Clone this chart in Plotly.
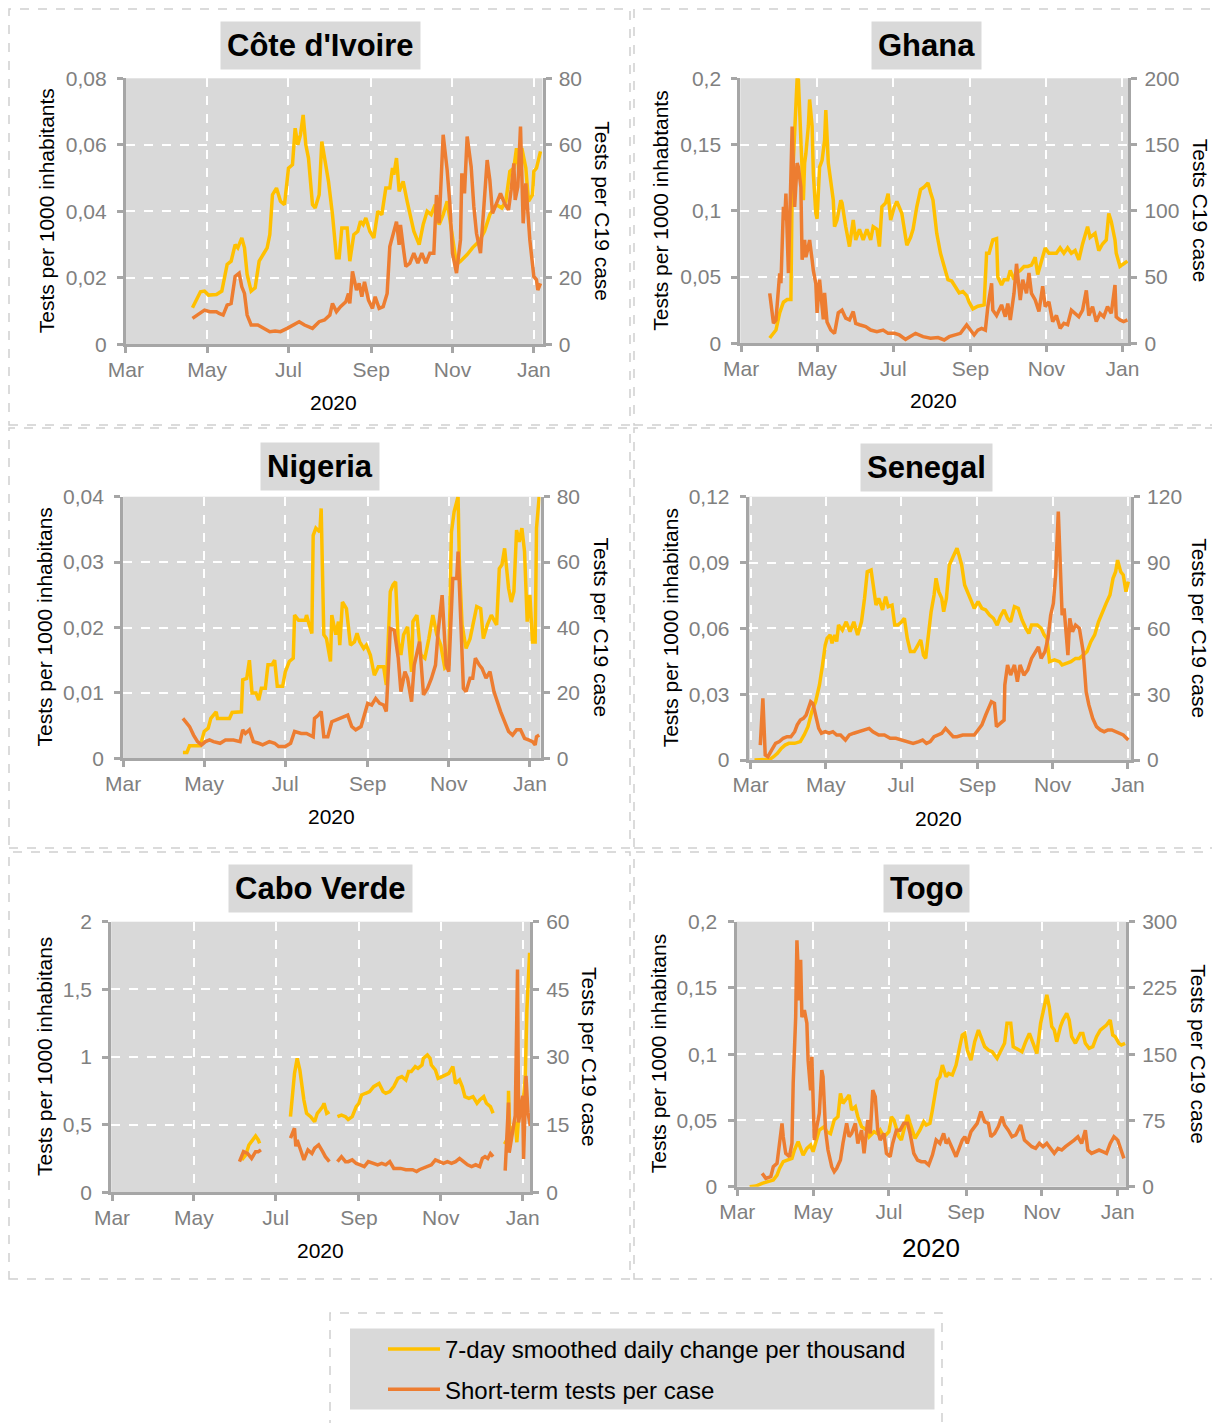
import pandas as pd
import plotly.graph_objects as go

W, H = 1220, 1423
PAGE_OFF = 8  # the page body margin shifts the figure by 8px
ORIGIN = pd.Timestamp("2020-03-01")
YELLOW = "#FFC000"
ORANGE = "#ED7D31"
AXIS = "#A6A6A6"
TICKC = "#808080"
PLOTBG = "#D9D9D9"
FONT = "Liberation Sans, Arial, Helvetica, sans-serif"

# ---------------- data (days since 2020-03-01, values) ----------------
month_ticks = ["2020-03-01", "2020-05-01", "2020-07-01", "2020-09-01", "2020-11-01", "2021-01-01"]
month_labels = ["Mar", "May", "Jul", "Sep", "Nov", "Jan"]
series_names = ["7-day smoothed daily change per thousand", "Short-term tests per case"]

# Côte d'Ivoire
civ_tests_day = [50, 56, 59, 62, 68, 72, 76, 79, 82, 84, 87, 89, 91, 94, 97, 100, 103, 106, 108, 110,
                 113, 116, 119, 122, 125, 127, 129, 131, 133, 135, 137, 140, 142, 145, 147, 149, 152, 155, 158, 160,
                 162, 166, 168, 171, 174, 176, 178, 180, 183, 186, 189, 192, 195, 198, 200, 201, 203, 205, 208, 211,
                 216, 220, 223, 226, 229, 232, 235, 238, 241, 244, 246, 248, 251, 256, 260, 265, 269, 273, 278, 282,
                 285, 288, 291, 293, 295, 297, 300, 302, 305, 306, 308, 310, 311]
civ_tests = [.011, .0158, .016, .0148, .015, .016, .024, .025, .030, .029, .032, .029, .021, .016, .017, .025, .027, .029, .033, .045,
             .047, .043, .042, .053, .054, .065, .060, .063, .069, .060, .056, .042, .041, .045, .061, .056, .049, .039, .026, .026,
             .035, .035, .025, .033, .034, .037, .036, .038, .034, .032, .040, .039, .047, .047, .053, .051, .056, .046, .049, .043,
             .034, .030, .036, .040, .039, .042, .036, .039, .043, .035, .030, .024, .025, .027, .029, .031, .034, .039, .042, .041,
             .043, .052, .053, .059, .051, .059, .053, .043, .045, .052, .053, .057, .058]
civ_ratio_day = [50, 54, 59, 63, 68, 70, 73, 76, 79, 82, 85, 87, 89, 91, 94, 99, 103, 108, 112, 116,
                 121, 125, 130, 134, 140, 145, 149, 153, 155, 158, 161, 165, 167, 168, 170, 173, 175, 177, 179, 182,
                 185, 187, 190, 193, 196, 198, 201, 203, 205, 206, 208, 210, 213, 216, 219, 222, 225, 228, 231, 233,
                 235, 236, 238, 241, 243, 245, 248, 251, 252, 254, 256, 259, 261, 263, 266, 268, 271, 273, 275, 278,
                 281, 284, 287, 289, 291, 292, 294, 296, 298, 300, 302, 303, 306, 308, 309, 311]
civ_ratio = [7.8, 8.8, 10.3, 9.8, 9.8, 9.3, 8.8, 11.8, 12.3, 20.4, 21.4, 17.3, 15.3, 8.8, 5.8, 5.8, 4.8, 3.8, 4.0, 3.8,
             4.8, 5.8, 6.8, 5.8, 4.8, 6.8, 7.3, 8.8, 12.3, 9.8, 11.3, 12.8, 15.3, 12.3, 21.9, 16.3, 18.3, 14.3, 18.8, 13.3,
             10.8, 14.3, 10.8, 11.3, 15.3, 29.4, 33.4, 36.9, 29.9, 35.9, 29.4, 23.4, 24.4, 27.4, 24.4, 27.4, 24.4, 27.4, 27.4, 44.9,
             36.4, 44.4, 63.0, 52.4, 42.4, 27.4, 21.4, 31.4, 51.4, 45.4, 62.5, 53.4, 41.4, 33.4, 27.4, 38.4, 55.4, 49.4, 39.4, 42.4,
             45.4, 42.4, 40.4, 46.4, 54.4, 43.4, 47.4, 65.5, 36.4, 48.4, 38.4, 31.4, 20.4, 19.4, 16.3, 18.3]
civ_left_ticks = [0, 0.02, 0.04, 0.06, 0.08]
civ_left_labels = ["0", "0,02", "0,04", "0,06", "0,08"]
civ_right_ticks = [0, 20, 40, 60, 80]

# Ghana
gha_tests_day = [23, 26, 28, 31, 34, 37, 40, 41, 44, 45, 46, 48, 50, 51, 52, 54, 55, 57, 58, 60,
                 61, 63, 65, 67, 68, 70, 71, 74, 75, 77, 80, 81, 84, 87, 90, 92, 95, 98, 101, 104,
                 106, 109, 111, 113, 116, 118, 120, 123, 125, 129, 131, 133, 136, 138, 141, 144, 147, 150, 152, 154,
                 157, 160, 163, 166, 169, 172, 175, 178, 181, 183, 186, 190, 195, 197, 199, 202, 205, 206, 209, 211,
                 214, 216, 219, 221, 224, 227, 230, 233, 236, 238, 241, 244, 247, 250, 253, 256, 259, 262, 265, 268,
                 271, 274, 278, 280, 284, 287, 290, 293, 295, 297, 300, 301, 304, 307, 310]
gha_tests = [.004, .0075, .010, .023, .031, .033, .033, .118, .174, .200, .199, .153, .108, .136, .143, .164, .184, .164, .128, .098,
             .094, .133, .138, .153, .176, .136, .128, .108, .088, .093, .108, .106, .088, .073, .093, .078, .086, .078, .086, .078,
             .088, .086, .073, .103, .106, .113, .093, .103, .107, .098, .086, .074, .080, .086, .103, .116, .118, .121, .114, .108,
             .083, .068, .058, .048, .047, .043, .038, .039, .036, .031, .026, .028, .029, .068, .068, .078, .079, .050, .044, .048,
             .048, .055, .048, .053, .055, .058, .058, .059, .065, .052, .063, .072, .068, .068, .068, .072, .068, .072, .068, .070,
             .063, .075, .088, .080, .083, .070, .075, .078, .098, .092, .078, .068, .058, .060, .062]
gha_ratio_day = [23, 25, 26, 28, 29, 31, 32, 34, 35, 36, 38, 39, 41, 42, 43, 45, 46, 48, 49, 51,
                 52, 54, 55, 57, 58, 60, 61, 63, 65, 66, 67, 69, 72, 75, 78, 81, 84, 87, 90, 92,
                 95, 100, 104, 109, 114, 118, 123, 127, 132, 136, 140, 146, 152, 158, 163, 167, 172, 176, 181, 184,
                 187, 190, 193, 196, 198, 201, 202, 205, 209, 212, 214, 216, 219, 221, 224, 226, 229, 231, 233, 236,
                 239, 242, 244, 247, 250, 253, 256, 259, 262, 265, 268, 271, 274, 277, 279, 282, 285, 288, 291, 294,
                 297, 300, 301, 304, 307, 310]
gha_ratio = [37.7, 25.2, 15.1, 17.6, 32.7, 52.8, 45.3, 103, 93, 113, 53, 101, 163.5, 133, 103, 136, 133, 118, 63, 78,
             65, 73, 78, 63, 55, 45, 23, 48, 28, 18, 38, 16, 10, 7.5, 23, 25, 19, 17.6, 24, 15,
             14, 12.6, 10, 8.8, 10, 7.5, 7.5, 6.3, 3, 5, 7.5, 5, 3.8, 4.3, 2.5, 5, 6.3, 7.5, 13.8, 10,
             6.3, 10, 11.3, 10, 27.7, 45.3, 25, 21, 29, 20, 30, 17.6, 37.7, 60, 32.7, 48, 37.7, 53, 37.7, 32.7,
             24, 43, 27.7, 31.4, 16.4, 21, 11.3, 15, 14, 25, 22.6, 20, 25, 40, 21, 27.7, 16.4, 22.6, 20, 27.7,
             22.6, 44, 20, 17.6, 16.4, 17.6]
gha_left_ticks = [0, 0.05, 0.1, 0.15, 0.2]
gha_left_labels = ["0", "0,05", "0,1", "0,15", "0,2"]
gha_right_ticks = [0, 50, 100, 150, 200]

# Nigeria
nga_tests_day = [45, 48, 50, 53, 58, 61, 64, 66, 70, 71, 76, 80, 82, 86, 89, 90, 93, 95, 97, 100,
                 102, 104, 107, 109, 112, 114, 116, 120, 122, 125, 128, 129, 132, 137, 138, 140, 142, 143, 145, 148,
                 149, 151, 153, 156, 157, 160, 162, 163, 165, 168, 171, 174, 176, 178, 181, 183, 186, 189, 192, 196,
                 198, 201, 203, 205, 207, 209, 211, 214, 217, 218, 221, 224, 227, 230, 233, 236, 239, 242, 245, 247,
                 249, 252, 253, 255, 258, 261, 264, 266, 269, 271, 274, 277, 281, 283, 285, 287, 290, 292, 294, 296,
                 298, 300, 302, 304, 306, 308, 310, 311, 313]
nga_tests = [.0009, .0009, .0019, .0019, .0019, .0041, .0046, .0061, .0071, .0061, .0061, .0061, .007, .007, .0071, .012, .0122, .015, .010, .010,
             .0089, .0107, .0107, .0143, .0143, .015, .011, .011, .0132, .0148, .0153, .0219, .0211, .0211, .0219, .0204, .0191, .0341, .0352, .0346,
             .0382, .0189, .0183, .0148, .0219, .0189, .0209, .0173, .0239, .0229, .0173, .0178, .0191, .0178, .0168, .0173, .0158, .0127, .014, .014,
             .0112, .0255, .0265, .027, .0178, .0158, .0189, .0201, .0132, .0209, .0219, .0158, .0153, .0183, .0219, .0189, .0173, .0138, .0143, .0346,
             .0377, .040, .0296, .0204, .0168, .0183, .0209, .0232, .0229, .0183, .0204, .0219, .0204, .029, .0296, .0321, .026, .0239, .0255, .0349,
             .0331, .0352, .0316, .0209, .025, .0178, .0178, .0352, .040]
nga_ratio_day = [45, 47, 50, 53, 56, 59, 62, 65, 68, 73, 77, 83, 88, 90, 92, 95, 98, 102, 105, 110,
                 114, 117, 122, 126, 129, 134, 138, 143, 144, 147, 149, 151, 154, 157, 160, 163, 166, 169, 172, 175,
                 179, 181, 184, 187, 190, 193, 196, 198, 201, 204, 207, 209, 212, 214, 217, 219, 223, 226, 229, 232,
                 235, 237, 240, 243, 245, 248, 251, 252, 254, 256, 258, 261, 263, 265, 268, 270, 273, 276, 279, 282,
                 284, 287, 290, 293, 296, 299, 302, 305, 308, 310, 311, 313]
nga_ratio = [12.2, 11.2, 9.7, 7.1, 5.1, 4.1, 5.1, 5.6, 5.1, 4.6, 5.6, 5.6, 5.1, 8.7, 7.6, 8.7, 5.1, 4.6, 4.1, 5.1,
             4.6, 3.6, 3.6, 4.6, 8.2, 7.6, 7.6, 6.6, 12.2, 13.2, 14.3, 6.6, 6.6, 11.2, 11.7, 12.2, 12.7, 13.2, 9.7, 8.7,
             9.7, 12.7, 16.8, 16.3, 18.3, 16.8, 16.3, 14.3, 39.7, 39.2, 30.6, 20.4, 26.5, 24.5, 17.3, 28.5, 35.7, 19.4, 21.4, 24.5,
             28.5, 38.7, 49.9, 28.5, 26.5, 55.0, 55.0, 63.2, 40.8, 21.4, 20.4, 24.5, 24.5, 30.6, 28.5, 27.5, 24.5, 26.5, 20.4, 16.3,
             14.3, 11.2, 8.2, 7.1, 8.7, 8.7, 6.1, 5.6, 5.1, 4.1, 6.6, 7.1]
nga_left_ticks = [0, 0.01, 0.02, 0.03, 0.04]
nga_left_labels = ["0", "0,01", "0,02", "0,03", "0,04"]
nga_right_ticks = [0, 20, 40, 60, 80]

# Senegal
sen_tests_day = [3.1, 9.3, 15.5, 18.6, 21.7, 24.8, 27.9, 31, 35.7, 40.3, 43.4, 46.5, 49.6, 52.7, 55.8, 58.3, 60.5, 62, 64.5, 66,
                 68.2, 69.8, 71.3, 74.4, 77.5, 80.6, 83.7, 86.8, 89.9, 92.4, 94.6, 97.7, 99.2, 101.7, 103.9, 107, 109.5, 111.6, 114.7, 116.9,
                 119.4, 122.5, 124.7, 127.1, 129.6, 132.7, 134.9, 138, 140.2, 142, 144.2, 146.4, 148.8, 150.4, 152.6, 155, 156.6, 158.8, 161.2, 163.7,
                 165.9, 167.4, 169, 171.2, 173.6, 176.7, 179.2, 181.4, 184.5, 187.6, 190.7, 193.8, 196.9, 200, 202.5, 205.6, 208.4, 210.9, 214, 217.1,
                 220.2, 223.3, 225.7, 227.9, 232.6, 235.7, 238.1, 240.3, 242.5, 246.5, 250.5, 252.7, 255.8, 259.8, 263.6, 266.7, 269.8, 272.9, 276, 279.1,
                 282.2, 285.3, 288.4, 291.5, 294, 296.1, 297.7, 300.2, 302.3, 304.5, 306.4]
sen_tests = [0, 0, .0003, .0015, .003, .0053, .0068, .0076, .0076, .0084, .0114, .0152, .022, .0266, .0342, .0433, .0524, .0554, .057, .0532,
             .057, .054, .0615, .0592, .063, .0585, .063, .057, .063, .0737, .0858, .0866, .0798, .0706, .0737, .0684, .0744, .0699, .0706, .0615,
             .0615, .063, .0646, .0554, .0494, .0494, .0516, .0547, .0478, .0463, .057, .0676, .0752, .0828, .0767, .0737, .0676, .0737, .0889, .0919,
             .0949, .0965, .0934, .0889, .0798, .076, .0722, .0691, .0722, .0691, .0684, .0661, .0646, .0615, .0653, .0684, .0646, .063, .0699, .0691,
             .0638, .06, .0577, .0615, .0615, .06, .057, .0554, .0448, .0456, .0448, .0433, .044, .0448, .0463, .0463, .0478, .0494, .0539, .057,
             .063, .0676, .0714, .0752, .0828, .0858, .0911, .0858, .0843, .0767, .0813]
sen_ratio_day = [7.8, 9.9, 11.8, 14, 17.1, 20.2, 23.3, 26.4, 29.5, 32.6, 35.7, 37.8, 40.3, 42.8, 45, 46.5, 48.7, 50.5, 52.7, 55.2,
                 57.4, 60.5, 63.6, 66.7, 69.8, 72.9, 76.9, 80, 83.7, 88.4, 93, 96.1, 99.2, 103.9, 108.5, 113.2, 117.8, 122.5, 127.1, 131.8,
                 136.4, 139.5, 142.6, 145.7, 148.8, 151.9, 155, 158.1, 161.2, 164.3, 167.4, 172.1, 176.7, 181.4, 184.5, 187.6, 190.7, 193.2, 195.3, 197.8,
                 199.4, 202.5, 205.6, 206.2, 208.4, 210.9, 214, 216.4, 218.6, 221.7, 224.8, 227.9, 231, 233.5, 235.7, 238.8, 241.2, 243.4, 245.6, 247.4,
                 249.6, 251.2, 252.7, 254.3, 255.8, 257.4, 258.9, 261.1, 263.6, 266.7, 269.8, 272.2, 274.4, 277.5, 280.6, 283.7, 286.8, 289.9, 293, 296.1,
                 299.2, 302.3, 306.4]
sen_ratio = [6.8, 28.1, 2.3, 1.5, 4.6, 7.6, 8.4, 9.9, 10.6, 10.6, 12.9, 16, 18.2, 19, 20.5, 22.8, 26.6, 25.8, 20.5, 14.4,
             12.2, 12.9, 12.2, 12.9, 11.4, 11.4, 9.1, 11.4, 12.2, 12.9, 13.7, 14.4, 12.9, 11.4, 11.4, 9.9, 9.9, 9.1, 8.4, 7.6,
             8.4, 9.1, 7.6, 8.4, 10.6, 11.4, 12.2, 14.4, 12.2, 10.6, 10.6, 11.4, 11.4, 11.4, 13.7, 16, 20.5, 24.3, 26.6, 25.8,
             15.2, 16.7, 18.2, 34.2, 43.3, 38.7, 43.3, 35.7, 43.3, 38.7, 41, 46.3, 49.4, 51.6, 46.3, 49.4, 55.4, 66, 71.4, 84.3,
             113.2, 88.9, 66, 69.1, 58.5, 47.8, 64.6, 58.5, 61.5, 60, 49.4, 31.1, 25.1, 19, 15.2, 13.7, 12.9, 13.7, 13.7, 12.9,
             12.2, 11.4, 9.1]
sen_left_ticks = [0, 0.03, 0.06, 0.09, 0.12]
sen_left_labels = ["0", "0,03", "0,06", "0,09", "0,12"]
sen_right_ticks = [0, 30, 60, 90, 120]

# Cabo Verde (None = no data)
cpv_tests_day = [96.7, 99.7, 102, 105, 107, 109, 110, 120,
                 133, 135, 136, 138, 140, 142, 143, 145, 148, 151, 153, 155, 157, 158, 160, 162, 165,
                 168, 171, 174, 176, 179, 182, 184, 186, 189, 192, 195, 197, 199, 202, 204, 207, 210, 213, 216, 219,
                 221, 223, 226, 228, 231, 232, 235, 237, 238, 241, 243, 246, 248, 251, 254, 256, 259, 261, 263, 266,
                 269, 272, 274, 277, 279, 282, 284, 288,
                 292.5, 295, 295.5, 296.5, 300.5, 301.7, 303, 306, 308, 309.2, 311.2]
cpv_tests = [.239, .276, .350, .387, .416, .387, .362, None,
             .559, .805, .879, .990, .904, .756, .682, .584, .559, .522, .584, .608, .633, .658, .584, .596, None,
             .559, .571, .559, .539, .559, .633, .658, .719, .732, .744, .781, .793, .805, .744, .732, .744, .781, .842, .855, .830,
             .892, .892, .929, .916, .941, .990, 1.015, .990, .941, .904, .842, .855, .867, .879, .929, .805, .830, .781, .707, .695,
             .707, .658, .682, .707, .658, .633, .584, None,
             .356, .40, .75, .42, .52, .37, .55, .60, .86, 1.35, 1.77]
cpv_ratio_day = [95, 98, 101, 104, 107, 109, 111, 120,
                 133, 135, 136, 137, 138, 141, 143, 146, 149, 151, 154, 157, 159, 162, 165,
                 168, 171, 174, 176, 179, 182, 185, 188, 191, 195, 198, 201, 204, 207, 210, 215, 219, 224, 227, 229,
                 232, 235, 238, 241, 244, 247, 250, 253, 256, 259, 262, 265, 268, 271, 274, 276, 278, 280, 282, 284, 288,
                 293, 295.5, 296, 300.5, 302.2, 303, 306, 306.7, 308.5, 310, 311.7]
cpv_ratio = [6.8, 9.0, 8.6, 7.5, 9.0, 9.0, 9.4, None,
             12.0, 13.5, 14.2, 10.2, 11.6, 9.0, 7.2, 9.4, 8.6, 9.8, 10.5, 9.0, 7.9, 6.8, None,
             6.8, 7.9, 6.8, 6.8, 7.2, 6.4, 6.1, 5.7, 6.8, 6.4, 6.1, 6.4, 6.1, 6.8, 5.3, 5.3, 5.0, 5.0, 4.6, 5.0,
             5.3, 5.7, 6.1, 7.2, 6.8, 6.4, 6.8, 6.4, 6.8, 7.5, 6.8, 6.1, 5.7, 6.1, 5.7, 7.5, 7.9, 7.5, 8.6, 7.9, None,
             4.8, 19.9, 8.8, 17, 49.4, 15.5, 21.4, 7.4, 25.8, 17.7, 14.7]
cpv_left_ticks = [0, 0.5, 1, 1.5, 2]
cpv_left_labels = ["0", "0,5", "1", "1,5", "2"]
cpv_right_ticks = [0, 15, 30, 45, 60]

# Togo
tgo_tests_day = [10, 15, 20, 25, 29, 32, 34, 37, 41, 44, 46, 49, 51, 53, 56, 59, 61, 64, 66, 70,
                 72, 75, 78, 81, 83, 85, 88, 90, 92, 95, 97, 100, 104, 106, 110, 113, 115, 118, 122, 124,
                 126, 130, 132, 135, 137, 139, 143, 147, 150, 152, 155, 157, 159, 161, 163, 165, 168, 170, 173, 176,
                 179, 181, 183, 185, 188, 191, 194, 196, 199, 202, 205, 209, 212, 215, 217, 220, 222, 226, 229, 232,
                 235, 238, 241, 244, 246, 249, 251, 253, 255, 257, 260, 262, 265, 267, 269, 272, 276, 278, 280, 283,
                 286, 289, 292, 295, 297, 300, 302, 304, 307, 309, 312]
tgo_tests = [0, .0005, .0025, .0038, .005, .0088, .0138, .0189, .020, .0214, .0277, .034, .0289, .0239, .0289, .0314, .0264, .0352, .0428, .0453,
             .0415, .040, .0503, .0528, .0704, .0629, .0667, .0692, .0579, .0604, .0528, .0453, .0428, .0377, .0415, .040, .0428, .0377, .0415, .0528,
             .0503, .0377, .0352, .0478, .0541, .0478, .0365, .0428, .049, .0465, .0478, .0579, .0679, .0805, .083, .0918, .083, .0855, .0843, .0918,
             .1057, .1145, .1157, .1031, .0956, .1094, .1182, .1132, .1057, .1031, .1019, .0969, .1031, .1082, .1233, .1233, .1057, .1031, .1019, .1094,
             .1157, .1082, .1006, .1233, .1308, .1447, .1358, .1208, .1182, .1094, .1208, .1258, .1308, .1258, .1132, .1082, .1157, .1157, .1082, .1044,
             .1057, .1132, .1182, .1208, .122, .1258, .1145, .1132, .1082, .1069, .1082]
tgo_ratio_day = [20, 23, 27, 29, 32, 34, 36, 37, 39, 42, 44, 45, 47, 48, 50, 51, 52, 54, 56, 57,
                 59, 60, 62, 63, 66, 68, 69, 71, 73, 76, 78, 80, 83, 85, 88, 90, 92, 95, 97, 100,
                 102, 105, 107, 109, 111, 113, 115, 118, 120, 123, 125, 128, 131, 134, 137, 139, 142, 145, 148, 151,
                 154, 157, 160, 163, 166, 168, 170, 173, 176, 179, 181, 183, 185, 188, 191, 193, 196, 199, 202, 204,
                 207, 210, 213, 215, 218, 221, 224, 228, 231, 234, 237, 240, 243, 246, 249, 252, 255, 258, 261, 264,
                 268, 271, 274, 277, 280, 282, 285, 288, 291, 294, 297, 300, 303, 306, 308, 311]
tgo_ratio = [15.1, 9.4, 11.3, 22.6, 26.4, 49, 71.7, 56.6, 37.7, 34, 49, 117, 192, 279, 211, 257, 192, 200, 185, 143,
             109, 147, 52.8, 60.4, 83, 132, 124.5, 64, 41.5, 22.6, 17, 20.8, 30.2, 49, 71.7, 56.6, 60.4, 71.7, 49, 64,
             37.7, 75.5, 60.4, 109.4, 101.9, 64, 52.8, 60.4, 37.7, 34, 49, 64, 64, 71.7, 71.7, 60.4, 37.7, 30.2, 28.3, 28.3,
             24.5, 35.8, 52.8, 49, 60.4, 49, 52.8, 43.4, 34, 45.3, 52.8, 56.6, 49, 62.3, 68, 71.7, 85, 73.6, 71.7, 56.6,
             60.4, 68, 79.2, 69.8, 64, 56.6, 58.5, 69.8, 52.8, 49, 45.3, 43.4, 49, 45.3, 49, 43.4, 37.7, 43.4, 41.5, 45.3,
             49, 52.8, 56.6, 49, 64, 41.5, 37.7, 39.6, 41.5, 39.6, 37.7, 49, 56.6, 52.8, 45.3, 32]
tgo_left_ticks = [0, 0.05, 0.1, 0.15, 0.2]
tgo_left_labels = ["0", "0,05", "0,1", "0,15", "0,2"]
tgo_right_ticks = [0, 75, 150, 225, 300]

# ---------------- panels ----------------
panels = [
    dict(name="Côte d'Ivoire", td=civ_tests_day, tv=civ_tests, rd=civ_ratio_day, rv=civ_ratio,
         lt=civ_left_ticks, ll=civ_left_labels, rt=civ_right_ticks,
         ltitle="Tests per 1000 inhabitants", rtitle="Tests per C19 case",
         box=(125.8, 78.3, 542.5, 344.3), xr=(0, 312.5), title=(320, 46), ltx=46, rtx=603, year=(333, 402), ys=21),
    dict(name="Ghana", td=gha_tests_day, tv=gha_tests, rd=gha_ratio_day, rv=gha_ratio,
         lt=gha_left_ticks, ll=gha_left_labels, rt=gha_right_ticks,
         ltitle="Tests per 1000 inhabtants", rtitle="Tests C19 case",
         box=(740.3, 78.3, 1128.2, 343.3), xr=(-0.6, 310.6), title=(926, 46), ltx=661, rtx=1200, year=(933, 401), ys=21),
    dict(name="Nigeria", td=nga_tests_day, tv=nga_tests, rd=nga_ratio_day, rv=nga_ratio,
         lt=nga_left_ticks, ll=nga_left_labels, rt=nga_right_ticks,
         ltitle="Tests per 1000 inhabitans", rtitle="Tests per C19 case",
         box=(123.1, 496.7, 540.5, 758.3), xr=(0, 314), title=(320, 466), ltx=44, rtx=601, year=(331, 816), ys=21),
    dict(name="Senegal", td=sen_tests_day, tv=sen_tests, rd=sen_ratio_day, rv=sen_ratio,
         lt=sen_left_ticks, ll=sen_left_labels, rt=sen_right_ticks,
         ltitle="Tests per 1000 inhabitans", rtitle="Tests per C19 case",
         box=(748.7, 496.7, 1130.9, 760), xr=(-1.6, 308.5), title=(926, 467), ltx=670, rtx=1200, year=(939, 818), ys=21),
    dict(name="Cabo Verde", td=cpv_tests_day, tv=cpv_tests, rd=cpv_ratio_day, rv=cpv_ratio,
         lt=cpv_left_ticks, ll=cpv_left_labels, rt=cpv_right_ticks,
         ltitle="Tests per 1000 inhabitans", rtitle="Tests per C19 case",
         box=(111.2, 921.7, 530, 1192.3), xr=(-0.6, 311.5), title=(321, 889), ltx=44, rtx=590, year=(320, 1250), ys=21),
    dict(name="Togo", td=tgo_tests_day, tv=tgo_tests, rd=tgo_ratio_day, rv=tgo_ratio,
         lt=tgo_left_ticks, ll=tgo_left_labels, rt=tgo_right_ticks,
         ltitle="Tests per 1000 inhabitans", rtitle="Tests per C19 case",
         box=(736.5, 921.7, 1126, 1186.7), xr=(-0.6, 312.7), title=(926, 889), ltx=658, rtx=1199, year=(931, 1248), ys=26),
]


def fx(px):
    return (px - PAGE_OFF) / W


def fy(py):
    return 1 - (py - PAGE_OFF) / H


def to_dates(days):
    return [ORIGIN + pd.Timedelta(days=d) for d in days]


fig = go.Figure()
layout = dict(
    width=W, height=H, margin=dict(l=0, r=0, t=0, b=0, pad=0, autoexpand=False),
    paper_bgcolor="white", plot_bgcolor=PLOTBG,
    font=dict(family=FONT, color="black"),
    showlegend=True,
    legend=dict(x=fx(383), y=fy(1327), xanchor="left", yanchor="top",
                bgcolor="rgba(0,0,0,0)", font=dict(size=24, color="black", family=FONT),
                tracegroupgap=6, itemwidth=52),
)
annotations = []
shapes = []

tick_font = dict(size=21, color=TICKC, family=FONT)
LW = 3.5

for i, p in enumerate(panels, start=1):
    xa = "x" if i == 1 else f"x{i}"
    yl_idx = 2 * i - 1
    yr_idx = 2 * i
    yl = "y" if yl_idx == 1 else f"y{yl_idx}"
    yr = f"y{yr_idx}"
    L, T, R, B = p["box"]

    fig.add_trace(go.Scatter(
        x=to_dates(p["td"]), y=p["tv"], mode="lines", name=series_names[0],
        line=dict(color=YELLOW, width=LW), xaxis=xa, yaxis=yl, connectgaps=False,
        legendgroup="a", showlegend=(i == 1), hoverinfo="x+y"))
    fig.add_trace(go.Scatter(
        x=to_dates(p["rd"]), y=p["rv"], mode="lines", name=series_names[1],
        line=dict(color=ORANGE, width=LW), xaxis=xa, yaxis=yr, connectgaps=False,
        legendgroup="b", showlegend=(i == 1), hoverinfo="x+y"))

    xr0 = ORIGIN + pd.Timedelta(days=p["xr"][0])
    xr1 = ORIGIN + pd.Timedelta(days=p["xr"][1])
    layout["xaxis" if i == 1 else f"xaxis{i}"] = dict(
        domain=[fx(L), fx(R)], anchor=yl, type="date", range=[xr0, xr1],
        tickmode="array", tickvals=month_ticks, ticktext=month_labels,
        showline=True, linecolor=AXIS, linewidth=3, ticks="outside", ticklen=6,
        tickwidth=3, tickcolor=AXIS, showgrid=True, gridcolor="white", griddash="dash",
        gridwidth=1.5, zeroline=False, tickfont=tick_font, ticklabelstandoff=-2,
        automargin=False, fixedrange=True)
    layout["yaxis" if yl_idx == 1 else f"yaxis{yl_idx}"] = dict(
        domain=[fy(B), fy(T)], anchor=xa, range=[0, p["lt"][-1]], side="left",
        tickmode="array", tickvals=p["lt"], ticktext=p["ll"],
        showline=True, linecolor=AXIS, linewidth=3, ticks="outside", ticklen=6,
        tickwidth=3, tickcolor=AXIS, showgrid=True, gridcolor="white", griddash="dash",
        gridwidth=1.5, zeroline=False, tickfont=tick_font, ticklabelstandoff=6,
        automargin=False, fixedrange=True)
    layout[f"yaxis{yr_idx}"] = dict(
        overlaying=yl, anchor=xa, side="right", range=[0, p["rt"][-1]],
        tickmode="array", tickvals=p["rt"], ticktext=[str(v) for v in p["rt"]],
        showline=True, linecolor=AXIS, linewidth=3, ticks="outside", ticklen=6,
        tickwidth=3, tickcolor=AXIS, showgrid=False, zeroline=False,
        tickfont=tick_font, ticklabelstandoff=3, automargin=False, fixedrange=True)

    # panel title box
    annotations.append(dict(
        xref="paper", yref="paper", x=fx(p["title"][0]), y=fy(p["title"][1]),
        xanchor="center", yanchor="middle", showarrow=False,
        text=f"<b>{p['name']}</b>", font=dict(size=31, color="black", family=FONT),
        bgcolor=PLOTBG, borderpad=6))
    cy = (T + B) / 2
    annotations.append(dict(
        xref="paper", yref="paper", x=fx(p["ltx"]), y=fy(cy), xanchor="center", yanchor="middle",
        showarrow=False, textangle=-90, text=p["ltitle"], font=dict(size=21, color="black", family=FONT)))
    annotations.append(dict(
        xref="paper", yref="paper", x=fx(p["rtx"]), y=fy(cy), xanchor="center", yanchor="middle",
        showarrow=False, textangle=90, text=p["rtitle"], font=dict(size=21, color="black", family=FONT)))
    annotations.append(dict(
        xref="paper", yref="paper", x=fx(p["year"][0]), y=fy(p["year"][1]), xanchor="center", yanchor="middle",
        showarrow=False, text="2020", font=dict(size=p["ys"], color="black", family=FONT)))

# dashed panel frames
frame_cols = [(9, 630), (634, 1218)]
frame_rows = [(9, 425), (428, 848), (852, 1279)]
for (y0, y1) in frame_rows:
    for (x0, x1) in frame_cols:
        shapes.append(dict(type="rect", xref="paper", yref="paper",
                           x0=fx(x0), x1=fx(x1), y0=fy(y1), y1=fy(y0),
                           line=dict(color="#D0D0D0", width=1.5, dash="dash"), layer="below"))
# legend boxes
shapes.append(dict(type="rect", xref="paper", yref="paper",
                   x0=fx(330), x1=fx(942), y0=fy(1440), y1=fy(1313),
                   line=dict(color="#D0D0D0", width=1.5, dash="dash"), layer="below"))
shapes.append(dict(type="rect", xref="paper", yref="paper",
                   x0=fx(350), x1=fx(934.5), y0=fy(1409.5), y1=fy(1328.5),
                   line=dict(width=0), fillcolor=PLOTBG, layer="below"))

layout["annotations"] = annotations
layout["shapes"] = shapes
fig.update_layout(**layout)
fig.write_html("out.html")
